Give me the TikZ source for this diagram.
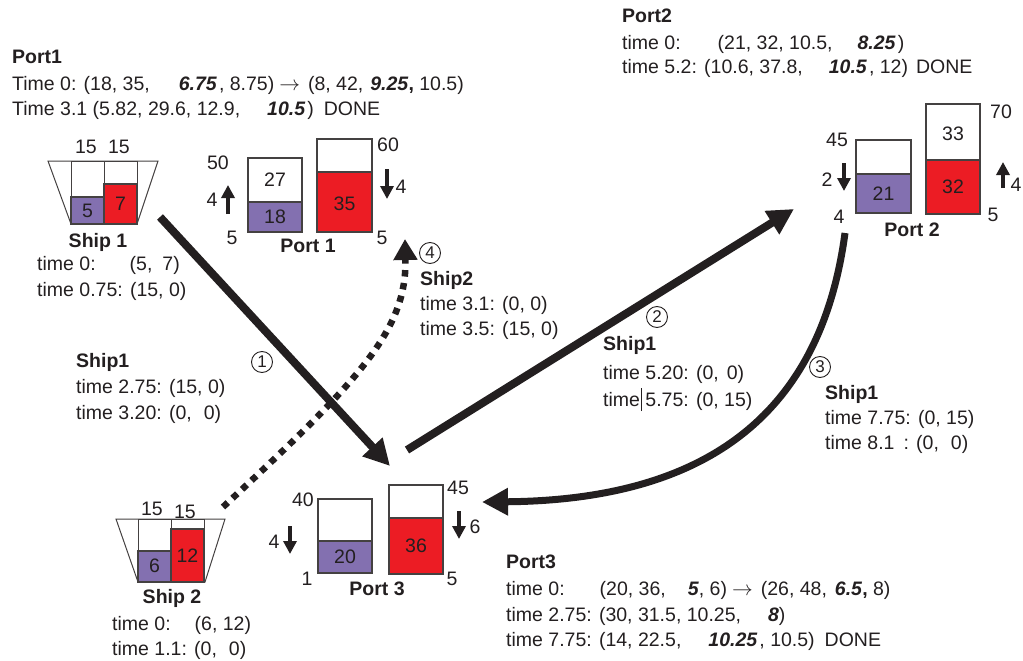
\documentclass[tikz,border=0pt]{standalone}
\usepackage{fontspec}
\setmainfont{Liberation Sans}
\usetikzlibrary{arrows.meta}
\definecolor{purp}{RGB}{131,112,176}
\definecolor{tred}{RGB}{236,28,36}
\definecolor{ink}{RGB}{35,31,32}
\newcommand{\bi}[1]{\textbf{\textit{#1}}}
\begin{document}
\begin{tikzpicture}[x=1pt,y=-1pt,
  every node/.style={inner sep=0pt, text=ink},
  txt/.style={anchor=base west, font=\fontsize{19.5}{24}\selectfont},
  hdr/.style={anchor=base west, font=\fontsize{19.5}{24}\selectfont\bfseries},
  num/.style={font=\fontsize{19.5}{24}\selectfont},
  plabel/.style={font=\fontsize{19.5}{24}\selectfont\bfseries},
  tank/.style={draw=ink!85, line width=1.3pt},
  hull/.style={draw=ink!85, line width=1pt},
  smallarr/.style={draw=ink, line width=3.5pt, -{Triangle[length=13pt,width=13pt]}},
  bigarr/.style={draw=ink, line width=8pt, -{Triangle[length=26pt,width=26pt]}},
  dotarr/.style={draw=ink, line width=6.5pt, dash pattern=on 6.5pt off 6.5pt, -{Triangle[length=21pt,width=23pt]}},
  step label/.style={circle, draw=ink, line width=0.9pt, minimum size=21pt, font=\fontsize{17}{17}\selectfont}
]
\useasboundingbox (0,0) rectangle (1023,661);

% ---------------- Port1 text
\node[hdr] (p1h) at (12,64) {Port1};
\node[txt] (p1a) at (12,90) {Time 0: (18, 35,\hspace{29pt}\bi{6.75}\hspace{2pt}, 8.75)\hspace{5pt}$\rightarrow$\hspace{8pt}(8, 42,\hspace{7pt}\bi{9.25}\textbf{,} 10.5)};
\node[txt] (p1b) at (12,115) {Time 3.1 (5.82, 29.6, 12.9,\hspace{27pt}\bi{10.5}\hspace{2pt})\hspace{10pt}DONE};

% ---------------- Port2 text
\node[hdr] (p2h) at (622,23) {Port2};
\node[txt] (p2a) at (622,50) {time 0:\hspace{37pt}(21, 32, 10.5,\hspace{25pt}\bi{8.25}\hspace{2pt})};
\node[txt] (p2b) at (622,74) {time 5.2: (10.6, 37.8,\hspace{26pt}\bi{10.5}\hspace{2pt}, 12)\hspace{8pt}DONE};

% ---------------- Port3 text
\node[hdr] (p3h) at (506,568) {Port3};
\node[txt] (p3a) at (506,595) {time 0:\hspace{35pt}(20, 36,\hspace{22pt}\bi{5}, 6)\hspace{5pt}$\rightarrow$\hspace{8pt}(26, 48,\hspace{8pt}\bi{6.5}\textbf{,} 8)};
\node[txt] (p3b) at (506,621) {time 2.75: (30, 31.5, 10.25,\hspace{27pt}\bi{8})};
\node[txt] (p3c) at (506,646) {time 7.75: (14, 22.5,\hspace{27pt}\bi{10.25}\hspace{2pt}, 10.5)\hspace{10pt}DONE};

% ---------------- Ship texts
\node[plabel] (s1lab) at (98,242) {Ship 1};
\node[txt] (s1a) at (37,270) {time 0:\hspace{34pt}(5,\hspace{10pt}7)};
\node[txt] (s1b) at (37,296) {time 0.75: (15, 0)};

\node[hdr] (m1h) at (76,367) {Ship1};
\node[txt] (m1a) at (76,393) {time 2.75: (15, 0)};
\node[txt] (m1b) at (76,419) {time 3.20: (0,\hspace{12pt}0)};

\node[hdr] (m2h) at (420,285) {Ship2};
\node[txt] (m2a) at (420,310) {time 3.1: (0, 0)};
\node[txt] (m2b) at (420,335) {time 3.5: (15, 0)};

\node[hdr] (m3h) at (603,350) {Ship1};
\node[txt] (m3a) at (603,379) {time 5.20: (0,\hspace{8pt}0)};
\node[txt] (m3b) at (603,406) {time\rlap{\hspace{1pt}\rule[-5pt]{0.8pt}{23pt}} 5.75: (0, 15)};

\node[hdr] (m4h) at (825,399) {Ship1};
\node[txt] (m4a) at (825,424) {time 7.75: (0, 15)};
\node[txt] (m4b) at (825,449) {time 8.1\hspace{9pt}: (0,\hspace{12pt}0)};

\node[plabel] (s2lab) at (172,598) {Ship 2};
\node[txt] (s2a) at (112,630) {time 0:\hspace{24pt}(6, 12)};
\node[txt] (s2b) at (112,655) {time 1.1: (0,\hspace{12pt}0)};

% ---------------- Ship 1 drawing
\draw[hull] (48,161) -- (158,161) -- (137,224) -- (71,224) -- cycle;
\draw[hull] (71,161) rectangle (104,224);
\draw[hull] (104,161) rectangle (137,224);
\filldraw[tank, fill=purp] (71,197) rectangle (104,224);
\filldraw[tank, fill=tred] (104,184) rectangle (137,224);
\node[num] (s1c1) at (86,147) {15};
\node[num] (s1c2) at (119,147) {15};
\node[num] (s1v1) at (87.5,211) {5};
\node[num] (s1v2) at (120.5,204) {7};

% ---------------- Ship 2 drawing
\draw[hull] (116,519) -- (225,519) -- (205,582) -- (138,582) -- cycle;
\draw[hull] (138,519) rectangle (171,582);
\draw[hull] (171,519) rectangle (204,582);
\filldraw[tank, fill=purp] (138,551) rectangle (171,582);
\filldraw[tank, fill=tred] (171,529) rectangle (204,582);
\node[num] (s2c1) at (152,509) {15};
\node[num] (s2c2) at (185,512) {15};
\node[num] (s2v1) at (154.5,566) {6};
\node[num] (s2v2) at (187.5,556) {12};

% ---------------- Port 1 drawing
\draw[tank, fill=white] (248,158) rectangle (302,232);
\filldraw[tank, fill=purp] (248,202) rectangle (302,232);
\draw[tank, fill=white] (317,139) rectangle (372,232);
\filldraw[tank, fill=tred] (317,172) rectangle (372,232);
\node[num] (p1w1) at (275,180) {27};
\node[num] (p1v1) at (275,217) {18};
\node[num] (p1v2) at (344.5,204) {35};
\node[num] (p1cap1) at (218,163) {50};
\node[num] (p1cap2) at (388,145) {60};
\node[num] (p1min1) at (232,238) {5};
\node[num] (p1min2) at (382,238) {5};
\node[plabel] (port1) at (308,246) {Port 1};
\node[num] (p1r1) at (212,200) {4};
\node[num] (p1r2) at (401,187) {4};
\draw[smallarr] (228,214) -- (228,185);
\draw[smallarr] (387,169) -- (387,199);

% ---------------- Port 2 drawing
\draw[tank, fill=white] (856,140) rectangle (911,213);
\filldraw[tank, fill=purp] (856,174) rectangle (911,213);
\draw[tank, fill=white] (926,104) rectangle (980,214);
\filldraw[tank, fill=tred] (926,160) rectangle (980,214);
\node[num] (p2v1) at (883.5,194) {21};
\node[num] (p2w2) at (953,134) {33};
\node[num] (p2v2) at (953,187) {32};
\node[num] (p2cap1) at (837,140) {45};
\node[num] (p2cap2) at (1001,112) {70};
\node[num] (p2min1) at (839,217) {4};
\node[num] (p2min2) at (993,215) {5};
\node[num] (p2r1) at (827,180) {2};
\node[num] (p2r2) at (1016,185) {4};
\node[plabel] (port2) at (912,230) {Port 2};
\draw[smallarr] (844,163) -- (844,191);
\draw[smallarr] (1003,188) -- (1003,162);

% ---------------- Port 3 drawing
\draw[tank, fill=white] (318,499) rectangle (372,573);
\filldraw[tank, fill=purp] (318,541) rectangle (372,573);
\draw[tank, fill=white] (389,485) rectangle (443,574);
\filldraw[tank, fill=tred] (389,518) rectangle (443,574);
\node[num] (p3v1) at (345,557) {20};
\node[num] (p3v2) at (416,546) {36};
\node[num] (p3cap1) at (303,500) {40};
\node[num] (p3cap2) at (458,488) {45};
\node[num] (p3min1) at (307,579) {1};
\node[num] (p3min2) at (452,579) {5};
\node[num] (p3r1) at (274,542) {4};
\node[num] (p3r2) at (475,527) {6};
\node[plabel] (port3) at (377,589) {Port 3};
\draw[smallarr] (290,526) -- (290,554);
\draw[smallarr] (459,511) -- (459,539);

% ---------------- Route arrows
\coordinate (a1s) at (160,217);
\coordinate (a1e) at (390,466);
\coordinate (a2s) at (407,450);
\coordinate (a2e) at (794,209);
\coordinate (a3s) at (845,233);
\coordinate (a3e) at (482,502);
\coordinate (a4s) at (223,507);
\coordinate (a4e) at (405,239);

\draw[dotarr] (a4s) .. controls (360,380) and (407,330) .. (a4e);
\draw[bigarr] (a1s) -- (a1e);
\draw[bigarr] (a2s) -- (a2e);
\draw[bigarr, line width=7pt] (a3s) .. controls (820,420) and (700,500) .. (a3e);

\node[step label] (c1) at (262,362) {1};
\node[step label] (c2) at (657,317) {2};
\node[step label] (c3) at (820,367) {3};
\node[step label] (c4) at (430,253) {4};
\end{tikzpicture}
\end{document}
